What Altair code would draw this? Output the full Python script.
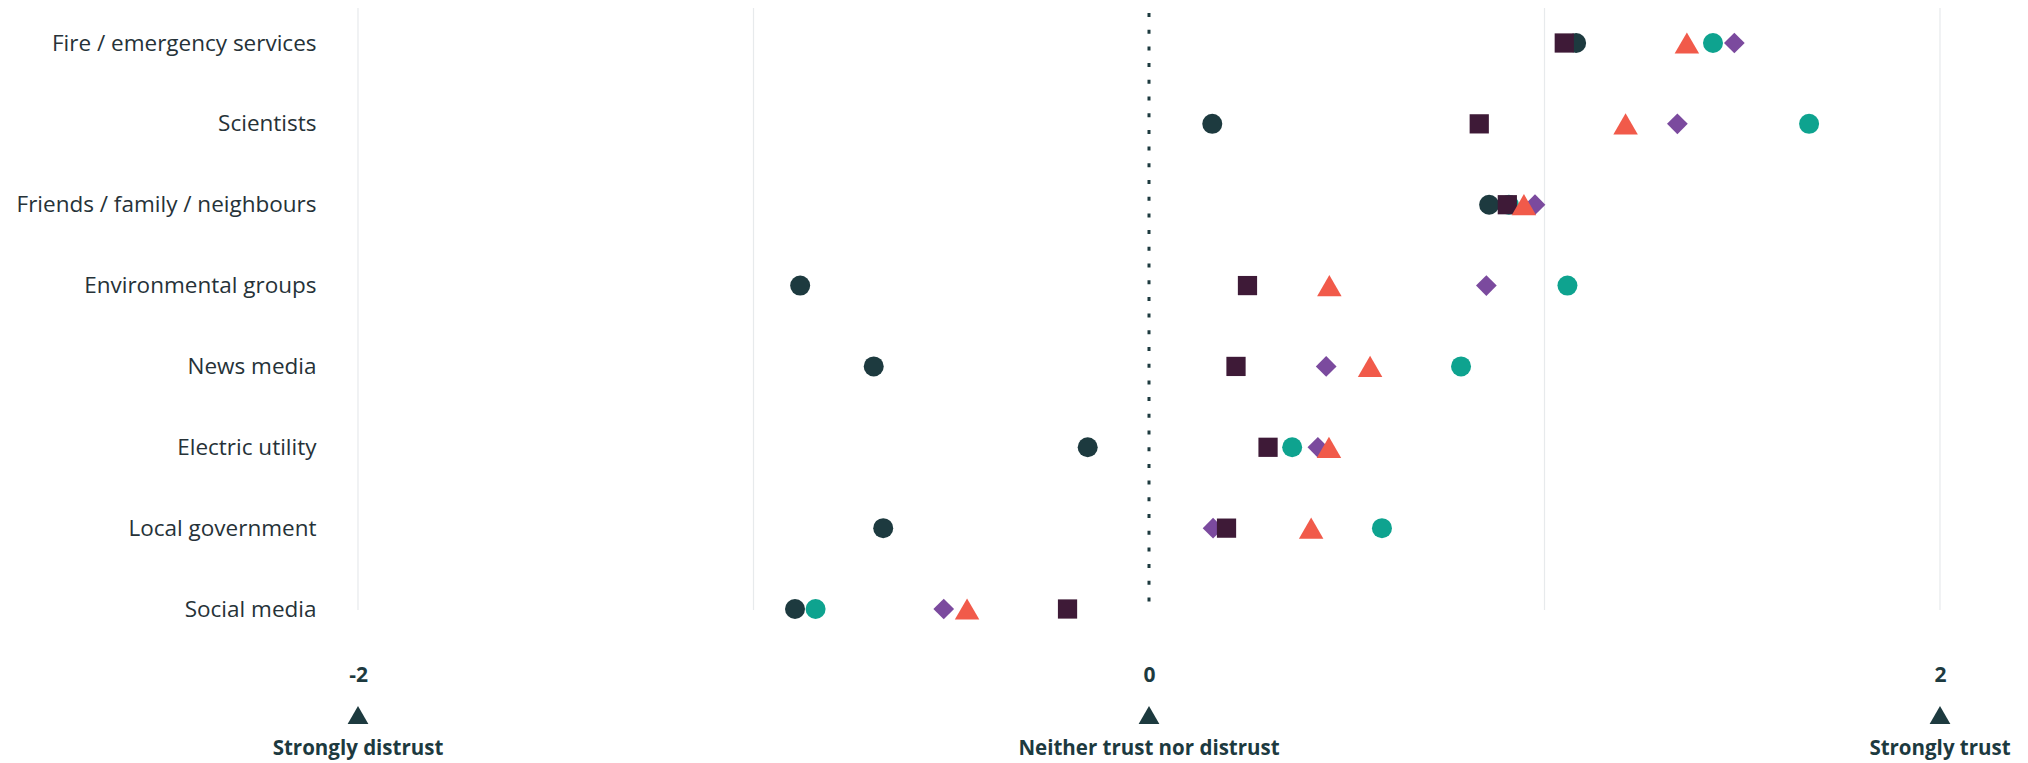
import altair as alt
import pandas as pd

categories = [
    "Fire / emergency services",
    "Scientists",
    "Friends / family / neighbours",
    "Environmental groups",
    "News media",
    "Electric utility",
    "Local government",
    "Social media",
]

# series (no legend in the reference) - drawn in this order
series_names = ["Group D", "Group B", "Group A", "Group C", "Group E"]
series_shapes = ["diamond", "circle", "circle", "square", "triangle-up"]
series_colors = ["#7b4a9e", "#0ea38f", "#1d3a3f", "#3e1a37", "#f15a4a"]
series_sizes = [430, 400, 400, 370, 600]

group_a = [1.08, 0.16, 0.86, -0.882, -0.696, -0.155, -0.672, -0.895]   # dark circle
group_b = [1.426, 1.669, 0.91, 1.058, 0.789, 0.362, 0.589, -0.843]     # teal circle
group_c = [1.05, 0.835, 0.906, 0.249, 0.220, 0.301, 0.196, -0.206]     # dark square
group_d = [1.48, 1.336, 0.976, 0.853, 0.448, 0.427, 0.162, -0.519]     # purple diamond
group_e = [1.36, 1.205, 0.948, 0.456, 0.559, 0.455, 0.410, -0.460]     # red triangle

series_values = {
    "Group A": group_a,
    "Group B": group_b,
    "Group C": group_c,
    "Group D": group_d,
    "Group E": group_e,
}

grid_values = [-2, -1, 1, 2]
tick_values = [-2, 0, 2]
anchor_values = [-2, 0, 2]
anchor_labels = ["Strongly distrust", "Neither trust nor distrust", "Strongly trust"]

W, H = 1582, 602
FONT = "Open Sans"
DARK = "#1d3a3f"
TEXT = "#263238"

x_scale = alt.Scale(domain=[-2, 2], nice=False, zero=False)
y_scale = alt.Scale(type="point", range=[35, 601], padding=0)
y_axis = alt.Axis(domain=False, ticks=False, grid=False, labelFont=FONT,
                  labelFontSize=22.5, labelColor=TEXT, labelPadding=42,
                  labelLimit=600)

grid = alt.Chart(pd.DataFrame({"value": grid_values})).mark_rule(
    color="#e7eaec", strokeWidth=1.2
).encode(
    x=alt.X("value:Q", scale=x_scale,
            axis=alt.Axis(values=tick_values, title=None, grid=False, domain=False,
                          ticks=False, tickSize=0, labelPadding=54, labelFont=FONT,
                          labelFontSize=21, labelFontWeight="bold", labelColor=DARK,
                          labelFlush=False, labelOverlap=False,
                          labelExpr="datum.value + ''")),
    y=alt.value(0),
    y2=alt.value(H),
)

zero_line = alt.Chart(pd.DataFrame({"value": [0]})).mark_rule(
    color=DARK, strokeWidth=3, strokeDash=[4, 12.7]
).encode(
    x=alt.X("value:Q", scale=x_scale),
    y=alt.value(5),
    y2=alt.value(H + 2),
)

layers = [grid, zero_line]
for i, s in enumerate(series_names):
    df = pd.DataFrame({"category": categories, "value": series_values[s], "series": s})
    layers.append(
        alt.Chart(df).mark_point(
            filled=True, opacity=1, strokeWidth=0,
            shape=series_shapes[i], color=series_colors[i], size=series_sizes[i]
        ).encode(
            x=alt.X("value:Q", scale=x_scale),
            y=alt.Y("category:N", sort=categories, title=None, scale=y_scale, axis=y_axis),
        )
    )

anchor_df = pd.DataFrame({"value": anchor_values, "label": anchor_labels})

anchor_tri = alt.Chart(anchor_df).mark_point(
    shape="triangle-up", filled=True, opacity=1, size=430, color=DARK, strokeWidth=0
).encode(
    x=alt.X("value:Q", scale=x_scale),
    y=alt.value(707),
)

anchor_text = alt.Chart(anchor_df).mark_text(
    font=FONT, fontSize=20.5, fontWeight="bold", color=DARK, align="center", baseline="middle"
).encode(
    x=alt.X("value:Q", scale=x_scale),
    y=alt.value(741),
    text="label:N",
)

layers += [anchor_tri, anchor_text]

chart = alt.layer(*layers).properties(
    width=W,
    height=H,
    autosize=alt.AutoSizeParams(type="none"),
    padding={"left": 350, "top": 0, "right": 80, "bottom": 152},
    background="white",
).configure_view(strokeWidth=0)

chart.save("out.html", embed_options={"renderer": "svg", "actions": False})
